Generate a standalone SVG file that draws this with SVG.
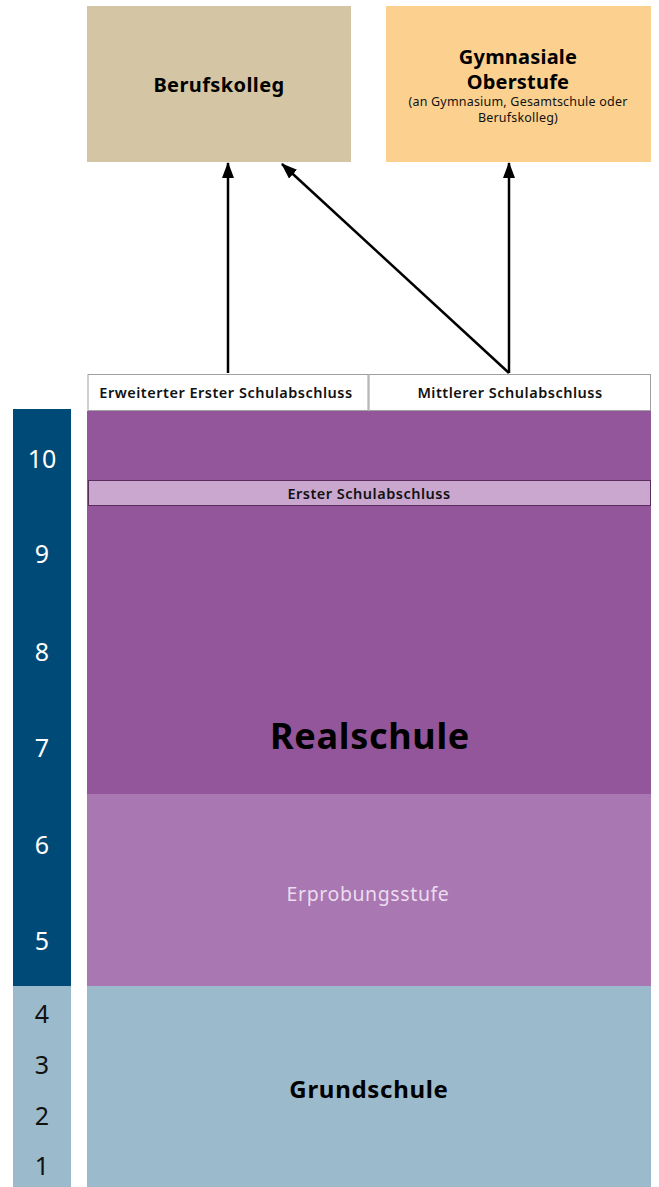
<svg xmlns="http://www.w3.org/2000/svg" width="659" height="1187" viewBox="0 0 659 1187">
<style>
text{font-family:"Noto Sans","Liberation Sans",sans-serif;text-anchor:middle}
.b{font-weight:bold;fill:#000}
.num{font-size:25px;fill:#fff}
.numd{font-size:25px;fill:#111}
.abs{font-size:14.5px;font-weight:600;fill:#111;letter-spacing:0.5px}
.conn{stroke:#000;stroke-width:2.5;fill:none;marker-end:url(#ah)}
</style>
<defs>
<marker id="ah" viewBox="0 0 16 12" refX="15" refY="6" markerWidth="16" markerHeight="12" markerUnits="userSpaceOnUse" orient="auto">
<path d="M0,0 L16,6 L0,12 Z" fill="#000"/>
</marker>
</defs>
<g id="grades">
<rect x="13" y="409" width="58" height="577" fill="#004a77"/>
<rect x="13" y="986" width="58" height="201" fill="#9bbacb"/>
<text class="num" x="42" y="468">10</text>
<text class="num" x="42" y="563">9</text>
<text class="num" x="42" y="661">8</text>
<text class="num" x="42" y="757">7</text>
<text class="num" x="42" y="854">6</text>
<text class="num" x="42" y="950">5</text>
<text class="numd" x="42" y="1023">4</text>
<text class="numd" x="42" y="1074">3</text>
<text class="numd" x="42" y="1125">2</text>
<text class="numd" x="42" y="1175">1</text>
</g>
<g id="berufskolleg">
<rect x="87" y="6" width="264" height="156" fill="#d4c5a5"/>
<text class="b" x="219" y="92" font-size="20" letter-spacing="0.4">Berufskolleg</text>
</g>
<g id="gymnasiale-oberstufe">
<rect x="386" y="6" width="265" height="156" fill="#fcd18f"/>
<text class="b" x="518" y="64" font-size="20" letter-spacing="0.2">Gymnasiale</text>
<text class="b" x="518" y="89" font-size="20" letter-spacing="0.2">Oberstufe</text>
<text x="518" y="106" font-size="12.5" fill="#111" letter-spacing="0.2">(an Gymnasium, Gesamtschule oder</text>
<text x="518" y="122" font-size="12.5" fill="#111" letter-spacing="0.2">Berufskolleg)</text>
</g>
<g id="erweiterter-erster-schulabschluss">
<rect x="88" y="374.5" width="280" height="36" fill="#fff" stroke="#a0a0a0" stroke-width="1"/>
<text class="abs" x="226" y="398">Erweiterter Erster Schulabschluss</text>
</g>
<g id="mittlerer-schulabschluss">
<rect x="369" y="374.5" width="281.5" height="36" fill="#fff" stroke="#a0a0a0" stroke-width="1"/>
<text class="abs" x="510" y="398">Mittlerer Schulabschluss</text>
</g>
<g id="realschule">
<rect x="87" y="411" width="564" height="383" fill="#94569a"/>
<text class="b" x="370" y="749" font-size="36" letter-spacing="0.7">Realschule</text>
</g>
<g id="erster-schulabschluss">
<rect x="88.5" y="480.5" width="562" height="25" fill="#c9a7cf" stroke="#5a2d5e" stroke-width="1"/>
<text class="abs" x="369" y="499">Erster Schulabschluss</text>
</g>
<g id="erprobungsstufe">
<rect x="87" y="794" width="564" height="192" fill="#a977b1"/>
<text x="368" y="901" font-size="19.5" fill="#ecdcef" letter-spacing="0.6">Erprobungsstufe</text>
</g>
<g id="grundschule">
<rect x="87" y="986" width="564" height="201" fill="#9bbacb"/>
<text class="b" x="369" y="1098" font-size="24" letter-spacing="0.7">Grundschule</text>
</g>
<g id="connectors">
<line class="conn" x1="228" y1="373" x2="228" y2="163"/>
<line class="conn" x1="509" y1="373" x2="509" y2="163"/>
<line class="conn" x1="509" y1="373" x2="282" y2="164"/>
</g>
</svg>
